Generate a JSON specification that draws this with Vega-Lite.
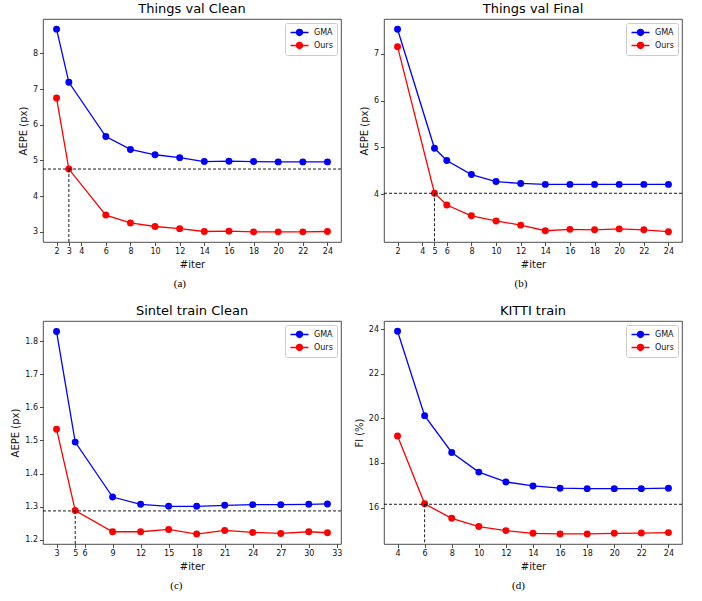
{
  "$schema": "https://vega.github.io/schema/vega-lite/v6.json",
  "padding": {"left": 10, "top": 2, "right": 5, "bottom": 5},
  "background": "white",
  "datasets": {
    "a": [
      {"iter": 2, "aepe": 8.68, "method": "GMA"}, {"iter": 3, "aepe": 7.19, "method": "GMA"}, {"iter": 6, "aepe": 5.67, "method": "GMA"}, {"iter": 8, "aepe": 5.31, "method": "GMA"}, {"iter": 10, "aepe": 5.16, "method": "GMA"}, {"iter": 12, "aepe": 5.08, "method": "GMA"}, {"iter": 14, "aepe": 4.97, "method": "GMA"}, {"iter": 16, "aepe": 4.98, "method": "GMA"}, {"iter": 18, "aepe": 4.97, "method": "GMA"}, {"iter": 20, "aepe": 4.96, "method": "GMA"}, {"iter": 22, "aepe": 4.96, "method": "GMA"}, {"iter": 24, "aepe": 4.96, "method": "GMA"},
      {"iter": 2, "aepe": 6.75, "method": "Ours"}, {"iter": 3, "aepe": 4.76, "method": "Ours"}, {"iter": 6, "aepe": 3.47, "method": "Ours"}, {"iter": 8, "aepe": 3.25, "method": "Ours"}, {"iter": 10, "aepe": 3.15, "method": "Ours"}, {"iter": 12, "aepe": 3.09, "method": "Ours"}, {"iter": 14, "aepe": 3.01, "method": "Ours"}, {"iter": 16, "aepe": 3.02, "method": "Ours"}, {"iter": 18, "aepe": 3.0, "method": "Ours"}, {"iter": 20, "aepe": 3.0, "method": "Ours"}, {"iter": 22, "aepe": 3.0, "method": "Ours"}, {"iter": 24, "aepe": 3.01, "method": "Ours"}
    ],
    "b": [
      {"iter": 2, "aepe": 7.52, "method": "GMA"}, {"iter": 5, "aepe": 4.98, "method": "GMA"}, {"iter": 6, "aepe": 4.72, "method": "GMA"}, {"iter": 8, "aepe": 4.42, "method": "GMA"}, {"iter": 10, "aepe": 4.27, "method": "GMA"}, {"iter": 12, "aepe": 4.23, "method": "GMA"}, {"iter": 14, "aepe": 4.21, "method": "GMA"}, {"iter": 16, "aepe": 4.21, "method": "GMA"}, {"iter": 18, "aepe": 4.21, "method": "GMA"}, {"iter": 20, "aepe": 4.21, "method": "GMA"}, {"iter": 22, "aepe": 4.21, "method": "GMA"}, {"iter": 24, "aepe": 4.21, "method": "GMA"},
      {"iter": 2, "aepe": 7.15, "method": "Ours"}, {"iter": 5, "aepe": 4.02, "method": "Ours"}, {"iter": 6, "aepe": 3.77, "method": "Ours"}, {"iter": 8, "aepe": 3.54, "method": "Ours"}, {"iter": 10, "aepe": 3.43, "method": "Ours"}, {"iter": 12, "aepe": 3.34, "method": "Ours"}, {"iter": 14, "aepe": 3.22, "method": "Ours"}, {"iter": 16, "aepe": 3.25, "method": "Ours"}, {"iter": 18, "aepe": 3.24, "method": "Ours"}, {"iter": 20, "aepe": 3.26, "method": "Ours"}, {"iter": 22, "aepe": 3.24, "method": "Ours"}, {"iter": 24, "aepe": 3.2, "method": "Ours"}
    ],
    "c": [
      {"iter": 3, "aepe": 1.829, "method": "GMA"}, {"iter": 5, "aepe": 1.495, "method": "GMA"}, {"iter": 9, "aepe": 1.329, "method": "GMA"}, {"iter": 12, "aepe": 1.307, "method": "GMA"}, {"iter": 15, "aepe": 1.301, "method": "GMA"}, {"iter": 18, "aepe": 1.301, "method": "GMA"}, {"iter": 21, "aepe": 1.304, "method": "GMA"}, {"iter": 24, "aepe": 1.306, "method": "GMA"}, {"iter": 27, "aepe": 1.306, "method": "GMA"}, {"iter": 30, "aepe": 1.307, "method": "GMA"}, {"iter": 32, "aepe": 1.308, "method": "GMA"},
      {"iter": 3, "aepe": 1.534, "method": "Ours"}, {"iter": 5, "aepe": 1.288, "method": "Ours"}, {"iter": 9, "aepe": 1.224, "method": "Ours"}, {"iter": 12, "aepe": 1.224, "method": "Ours"}, {"iter": 15, "aepe": 1.231, "method": "Ours"}, {"iter": 18, "aepe": 1.217, "method": "Ours"}, {"iter": 21, "aepe": 1.228, "method": "Ours"}, {"iter": 24, "aepe": 1.222, "method": "Ours"}, {"iter": 27, "aepe": 1.219, "method": "Ours"}, {"iter": 30, "aepe": 1.224, "method": "Ours"}, {"iter": 32, "aepe": 1.221, "method": "Ours"}
    ],
    "d": [
      {"iter": 4, "aepe": 23.9, "method": "GMA"}, {"iter": 6, "aepe": 20.12, "method": "GMA"}, {"iter": 8, "aepe": 18.47, "method": "GMA"}, {"iter": 10, "aepe": 17.59, "method": "GMA"}, {"iter": 12, "aepe": 17.15, "method": "GMA"}, {"iter": 14, "aepe": 16.97, "method": "GMA"}, {"iter": 16, "aepe": 16.87, "method": "GMA"}, {"iter": 18, "aepe": 16.85, "method": "GMA"}, {"iter": 20, "aepe": 16.85, "method": "GMA"}, {"iter": 22, "aepe": 16.85, "method": "GMA"}, {"iter": 24, "aepe": 16.87, "method": "GMA"},
      {"iter": 4, "aepe": 19.21, "method": "Ours"}, {"iter": 6, "aepe": 16.17, "method": "Ours"}, {"iter": 8, "aepe": 15.52, "method": "Ours"}, {"iter": 10, "aepe": 15.15, "method": "Ours"}, {"iter": 12, "aepe": 14.97, "method": "Ours"}, {"iter": 14, "aepe": 14.85, "method": "Ours"}, {"iter": 16, "aepe": 14.82, "method": "Ours"}, {"iter": 18, "aepe": 14.82, "method": "Ours"}, {"iter": 20, "aepe": 14.85, "method": "Ours"}, {"iter": 22, "aepe": 14.86, "method": "Ours"}, {"iter": 24, "aepe": 14.88, "method": "Ours"}
    ],
    "ra": [{"xv": 3, "yv": 4.76, "ymin": 2.716}],
    "rb": [{"xv": 5, "yv": 4.02, "ymin": 2.98}],
    "rc": [{"xv": 5, "yv": 1.287, "ymin": 1.187}],
    "rd": [{"xv": 6, "yv": 16.15, "ymin": 14.37}]
  },
  "columns": 2,
  "spacing": {"row": 15, "column": 10},
  "resolve": {"legend": {"color": "independent"}},
  "concat": [
    {
      "title": {"text": "(a)", "orient": "bottom", "anchor": "middle", "font": "Liberation Serif", "fontSize": 11, "baseline": "top", "offset": 8},
      "resolve": {"legend": {"color": "independent"}},
      "vconcat": [{
        "width": 298, "height": 223,
        "title": "Things val Clean",
        "layer": [
          {"data": {"name": "a"}, "mark": {"type": "line", "strokeWidth": 1.3},
           "encoding": {
             "x": {"field": "iter", "type": "quantitative", "scale": {"domain": [0.9, 25.1], "nice": false, "zero": false}, "axis": {"title": "#iter", "values": [2, 3, 4, 6, 8, 10, 12, 14, 16, 18, 20, 22, 24], "format": "d", "tickCount": 50, "labelOverlap": false}},
             "y": {"field": "aepe", "type": "quantitative", "scale": {"domain": [2.716, 8.964], "nice": false, "zero": false}, "axis": {"title": "AEPE (px)", "values": [3, 4, 5, 6, 7, 8], "format": "d", "tickCount": 50, "labelOverlap": false}},
             "color": {"field": "method", "type": "nominal", "title": null}
           }},
          {"data": {"name": "a"}, "mark": {"type": "point", "filled": true, "opacity": 1, "size": 48},
           "encoding": {"x": {"field": "iter", "type": "quantitative"}, "y": {"field": "aepe", "type": "quantitative"}, "color": {"field": "method", "type": "nominal"}}},
          {"data": {"name": "ra"}, "mark": {"type": "rule", "color": "black", "strokeWidth": 0.9, "strokeDash": [3, 2]},
           "encoding": {"y": {"field": "yv", "type": "quantitative"}}},
          {"data": {"name": "ra"}, "mark": {"type": "rule", "color": "black", "strokeWidth": 0.9, "strokeDash": [3, 2]},
           "encoding": {"x": {"field": "xv", "type": "quantitative"}, "y": {"field": "yv", "type": "quantitative"}, "y2": {"field": "ymin"}}}
        ]
      }]
    },
    {
      "title": {"text": "(b)", "orient": "bottom", "anchor": "middle", "font": "Liberation Serif", "fontSize": 11, "baseline": "top", "offset": 8},
      "resolve": {"legend": {"color": "independent"}},
      "vconcat": [{
        "width": 298, "height": 223,
        "title": "Things val Final",
        "layer": [
          {"data": {"name": "b"}, "mark": {"type": "line", "strokeWidth": 1.3},
           "encoding": {
             "x": {"field": "iter", "type": "quantitative", "scale": {"domain": [0.9, 25.1], "nice": false, "zero": false}, "axis": {"title": "#iter", "values": [2, 4, 5, 6, 8, 10, 12, 14, 16, 18, 20, 22, 24], "format": "d", "tickCount": 50, "labelOverlap": false}},
             "y": {"field": "aepe", "type": "quantitative", "scale": {"domain": [2.98, 7.74], "nice": false, "zero": false}, "axis": {"title": "AEPE (px)", "values": [4, 5, 6, 7], "format": "d", "tickCount": 50, "labelOverlap": false}},
             "color": {"field": "method", "type": "nominal", "title": null}
           }},
          {"data": {"name": "b"}, "mark": {"type": "point", "filled": true, "opacity": 1, "size": 48},
           "encoding": {"x": {"field": "iter", "type": "quantitative"}, "y": {"field": "aepe", "type": "quantitative"}, "color": {"field": "method", "type": "nominal"}}},
          {"data": {"name": "rb"}, "mark": {"type": "rule", "color": "black", "strokeWidth": 0.9, "strokeDash": [3, 2]},
           "encoding": {"y": {"field": "yv", "type": "quantitative"}}},
          {"data": {"name": "rb"}, "mark": {"type": "rule", "color": "black", "strokeWidth": 0.9, "strokeDash": [3, 2]},
           "encoding": {"x": {"field": "xv", "type": "quantitative"}, "y": {"field": "yv", "type": "quantitative"}, "y2": {"field": "ymin"}}}
        ]
      }]
    },
    {
      "title": {"text": "(c)", "orient": "bottom", "anchor": "middle", "font": "Liberation Serif", "fontSize": 11, "baseline": "top", "offset": 8},
      "resolve": {"legend": {"color": "independent"}},
      "vconcat": [{
        "width": 298, "height": 223,
        "title": "Sintel train Clean",
        "layer": [
          {"data": {"name": "c"}, "mark": {"type": "line", "strokeWidth": 1.3},
           "encoding": {
             "x": {"field": "iter", "type": "quantitative", "scale": {"domain": [1.55, 33.45], "nice": false, "zero": false}, "axis": {"title": "#iter", "values": [3, 5, 6, 9, 12, 15, 18, 21, 24, 27, 30, 33], "format": "d", "tickCount": 50, "labelOverlap": false}},
             "y": {"field": "aepe", "type": "quantitative", "scale": {"domain": [1.187, 1.861], "nice": false, "zero": false}, "axis": {"title": "AEPE (px)", "values": [1.2, 1.3, 1.4, 1.5, 1.6, 1.7, 1.8], "format": ".1f", "tickCount": 50, "labelOverlap": false}},
             "color": {"field": "method", "type": "nominal", "title": null}
           }},
          {"data": {"name": "c"}, "mark": {"type": "point", "filled": true, "opacity": 1, "size": 48},
           "encoding": {"x": {"field": "iter", "type": "quantitative"}, "y": {"field": "aepe", "type": "quantitative"}, "color": {"field": "method", "type": "nominal"}}},
          {"data": {"name": "rc"}, "mark": {"type": "rule", "color": "black", "strokeWidth": 0.9, "strokeDash": [3, 2]},
           "encoding": {"y": {"field": "yv", "type": "quantitative"}}},
          {"data": {"name": "rc"}, "mark": {"type": "rule", "color": "black", "strokeWidth": 0.9, "strokeDash": [3, 2]},
           "encoding": {"x": {"field": "xv", "type": "quantitative"}, "y": {"field": "yv", "type": "quantitative"}, "y2": {"field": "ymin"}}}
        ]
      }]
    },
    {
      "title": {"text": "(d)", "orient": "bottom", "anchor": "middle", "font": "Liberation Serif", "fontSize": 11, "baseline": "top", "offset": 8},
      "resolve": {"legend": {"color": "independent"}},
      "vconcat": [{
        "width": 298, "height": 223,
        "title": "KITTI train",
        "layer": [
          {"data": {"name": "d"}, "mark": {"type": "line", "strokeWidth": 1.3},
           "encoding": {
             "x": {"field": "iter", "type": "quantitative", "scale": {"domain": [3, 25], "nice": false, "zero": false}, "axis": {"title": "#iter", "values": [4, 6, 8, 10, 12, 14, 16, 18, 20, 22, 24], "format": "d", "tickCount": 50, "labelOverlap": false}},
             "y": {"field": "aepe", "type": "quantitative", "scale": {"domain": [14.37, 24.36], "nice": false, "zero": false}, "axis": {"title": "Fl (%)", "values": [16, 18, 20, 22, 24], "format": "d", "tickCount": 50, "labelOverlap": false}},
             "color": {"field": "method", "type": "nominal", "title": null}
           }},
          {"data": {"name": "d"}, "mark": {"type": "point", "filled": true, "opacity": 1, "size": 48},
           "encoding": {"x": {"field": "iter", "type": "quantitative"}, "y": {"field": "aepe", "type": "quantitative"}, "color": {"field": "method", "type": "nominal"}}},
          {"data": {"name": "rd"}, "mark": {"type": "rule", "color": "black", "strokeWidth": 0.9, "strokeDash": [3, 2]},
           "encoding": {"y": {"field": "yv", "type": "quantitative"}}},
          {"data": {"name": "rd"}, "mark": {"type": "rule", "color": "black", "strokeWidth": 0.9, "strokeDash": [3, 2]},
           "encoding": {"x": {"field": "xv", "type": "quantitative"}, "y": {"field": "yv", "type": "quantitative"}, "y2": {"field": "ymin"}}}
        ]
      }]
    }
  ],
  "config": {
    "font": "DejaVu Sans",
    "view": {"stroke": "#222222", "strokeWidth": 0.8},
    "range": {"category": ["#0000ff", "#ff0000"]},
    "title": {"font": "DejaVu Sans", "fontSize": 13, "fontWeight": "normal", "color": "black", "offset": 3, "baseline": "bottom"},
    "axis": {
      "grid": false, "domain": false,
      "labelFont": "DejaVu Sans", "labelFontSize": 8, "labelColor": "#111111",
      "tickColor": "#222222", "tickSize": 3.5, "tickWidth": 0.8, "labelPadding": 2,
      "titleFont": "DejaVu Sans", "titleFontSize": 10, "titleFontWeight": "normal", "titleColor": "#111111", "titlePadding": 4,
      "labelOverlap": false, "labelFlush": false
    },
    "legend": {
      "orient": "top-right", "offset": 4,
      "labelFont": "DejaVu Sans", "labelFontSize": 8, "labelColor": "#111111",
      "symbolType": "M-2,0H2M-0.667,0A0.667,0.667,0,1,0,0.667,0A0.667,0.667,0,1,0,-0.667,0",
      "symbolSize": 81, "symbolStrokeWidth": 1.3, "symbolOffset": 5, "labelOffset": 9,
      "clipHeight": 11,
      "strokeColor": "#cccccc", "fillColor": "white", "padding": 4, "cornerRadius": 2, "rowPadding": 2,
      "encode": {"symbols": {"update": {"fill": {"scale": "color", "field": "value"}, "stroke": {"scale": "color", "field": "value"}, "opacity": {"value": 1}}}}
    }
  }
}
